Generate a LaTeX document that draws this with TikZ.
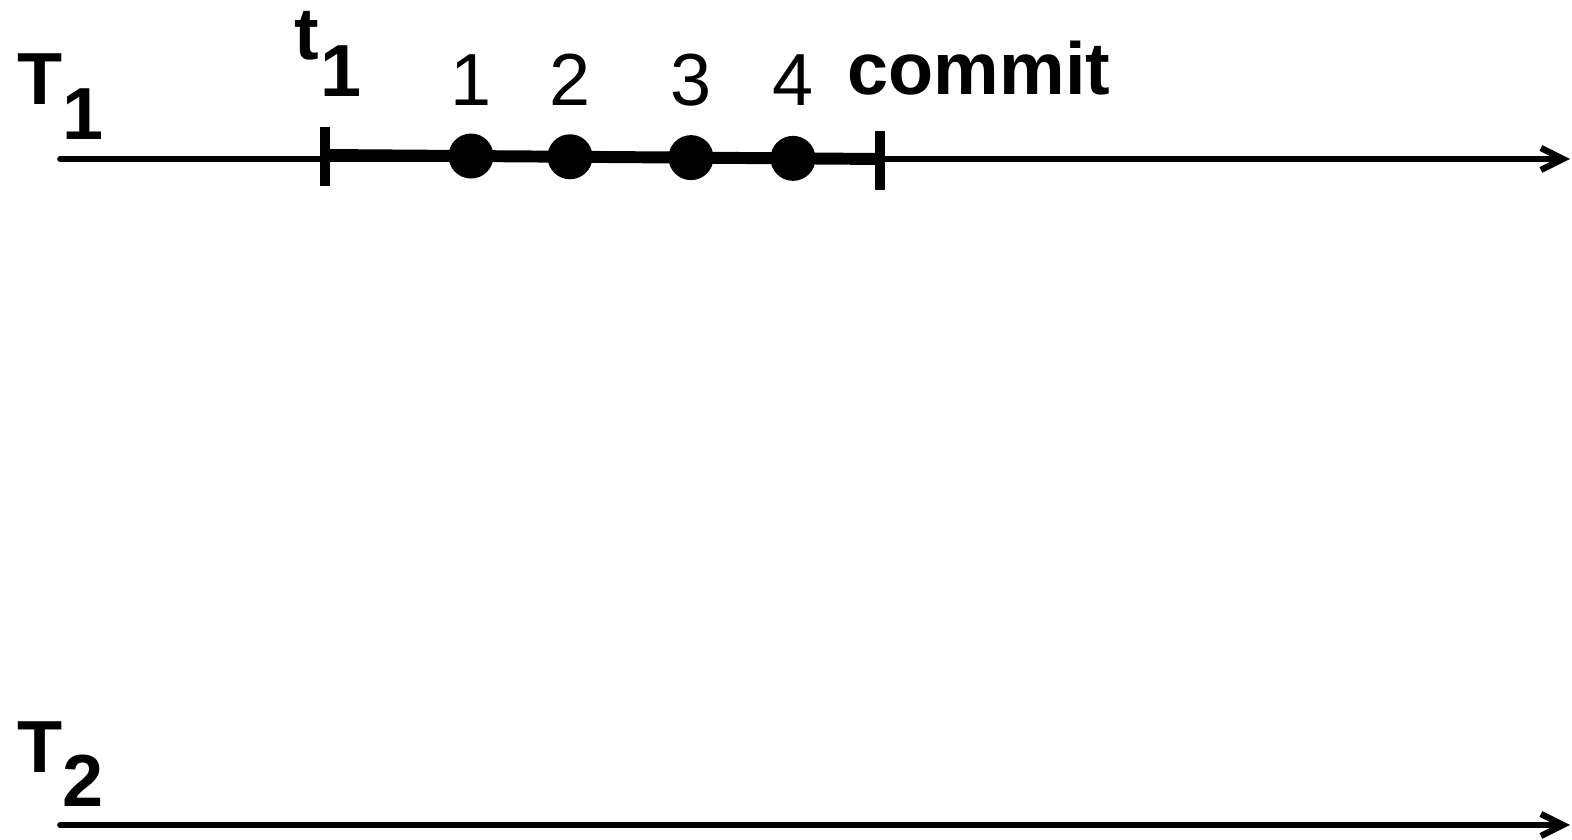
\documentclass[tikz,border=0pt]{standalone}
\usepackage{fontspec}
\setmainfont{Liberation Sans}
\usetikzlibrary{arrows.meta}

\begin{document}
\begin{tikzpicture}[line cap=round]
  % stijlen
  \tikzset{
    txt/.style={inner sep=0pt, anchor=base, font=\fontsize{21}{25}\selectfont},
    btxt/.style={txt, font=\fontsize{21}{25}\selectfont\bfseries},
    tijd/.style={line width=1.6pt, -{Straight Barb[length=2.2mm, width=2.2mm, line width=1.8pt]}},
    actie/.style={line width=3.4pt, line cap=butt},
    streep/.style={line width=3pt, line cap=butt},
    stip/.style={circle, fill, inner sep=0pt, minimum size=4.5mm}
  }
  \useasboundingbox (0,0) rectangle (15.72,8.40);
  % tijdlijnen
  \coordinate (s1) at (0.60,6.81);
  \coordinate (e1) at (15.70,6.81);
  \coordinate (s2) at (0.60,0.15);
  \coordinate (e2) at (15.70,0.15);
  \draw[tijd] (s1) -- (e1);
  \draw[tijd] (s2) -- (e2);
  % labels T1, T2
  \node[btxt] (T1) at (0.40,7.35) {T};
  \node[btxt] (T1i) at (0.83,7.00) {1};
  \node[btxt] (T2) at (0.40,0.67) {T};
  \node[btxt] (T2i) at (0.83,0.33) {2};
  % transactie T1 van t1 tot commit
  \coordinate (t1) at (3.25,6.85);
  \coordinate (c1) at (8.80,6.81);
  \draw[actie] (t1) -- (c1);
  \draw[streep] ([yshift=-3.1mm]t1) -- ([yshift=2.8mm]t1);
  \draw[streep] ([yshift=-3.1mm]c1) -- ([yshift=2.8mm]c1);
  \node[btxt] (t1a) at (3.07,7.80) {t};
  \node[btxt] (t1b) at (3.41,7.43) {1};
  \node[btxt] (commit) at (9.79,7.45) {commit};
  % operaties
  \foreach \x/\n in {4.71/1,5.70/2,6.91/3,7.93/4}{
    \node[stip] (p\n) at (\x,{6.85-0.04*(\x-3.25)/5.55}) {};
    \node[txt] (n\n) at (\x,7.34) {\n};
  }
\end{tikzpicture}
\end{document}
